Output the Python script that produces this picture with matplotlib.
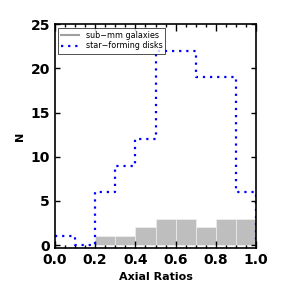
import numpy as np
import matplotlib.pyplot as plt
from matplotlib.ticker import MultipleLocator, NullLocator

# Histogram bin edges and counts
bin_edges = [0.0, 0.1, 0.2, 0.3, 0.4, 0.5, 0.6, 0.7, 0.8, 0.9, 1.0]
submm_counts = [0, 0, 1, 1, 2, 3, 3, 2, 3, 3]
disk_counts = [1, 0, 6, 9, 12, 22, 22, 19, 19, 6]

fig = plt.figure(figsize=(3.05, 3.04), dpi=100)
ax = fig.add_axes([0.18, 0.185, 0.66, 0.735])

# sub-mm galaxies: filled gray histogram
lefts = bin_edges[:-1]
ax.bar(lefts, submm_counts, width=0.1, align='edge', color='#bebebe',
       edgecolor='#f4f4f4', linewidth=0.4, zorder=1)

# star-forming disks: dotted step outline
xs = []
ys = []
for i, c in enumerate(disk_counts):
    xs += [bin_edges[i], bin_edges[i + 1]]
    ys += [c, c]
xs.append(bin_edges[-1])
ys.append(0)
ax.plot(xs, ys, color='blue', linestyle=(0, (1, 2.2)), linewidth=1.6, zorder=2)

# legend handles
ax.plot([], [], color='#a0a0a0', linewidth=1.5, label='sub\u2212mm galaxies')
ax.plot([], [], color='blue', linestyle=(0, (1, 2.2)), linewidth=1.6, label='star\u2212forming disks')
leg = ax.legend(loc='upper left', fontsize=5.8, frameon=True, fancybox=False,
                edgecolor='black', handlelength=2.2, borderpad=0.4,
                labelspacing=0.2, borderaxespad=0.4)
leg.get_frame().set_linewidth(0.6)

ax.set_xlim(0, 1.0)
ax.set_ylim(-0.3, 25)
ax.xaxis.set_major_locator(MultipleLocator(0.2))
ax.xaxis.set_minor_locator(MultipleLocator(0.05))
ax.yaxis.set_major_locator(MultipleLocator(5))
ax.yaxis.set_minor_locator(NullLocator())
ax.tick_params(which='both', direction='in', top=True, right=True, width=1.0)
ax.tick_params(axis='x', which='major', length=5)
ax.tick_params(axis='y', which='major', length=3.5)
ax.tick_params(which='major', labelsize=10)
ax.tick_params(which='minor', length=2.5)
ax.set_xticklabels([f'{v:.1f}' for v in ax.get_xticks()])
for lab in ax.get_xticklabels() + ax.get_yticklabels():
    lab.set_fontweight('bold')
for s in ax.spines.values():
    s.set_linewidth(1.2)

ax.set_xlabel('Axial Ratios', fontsize=8, fontweight='bold')
ax.set_ylabel('N', fontsize=8, fontweight='bold')

fig.savefig('out.png', dpi=100)
